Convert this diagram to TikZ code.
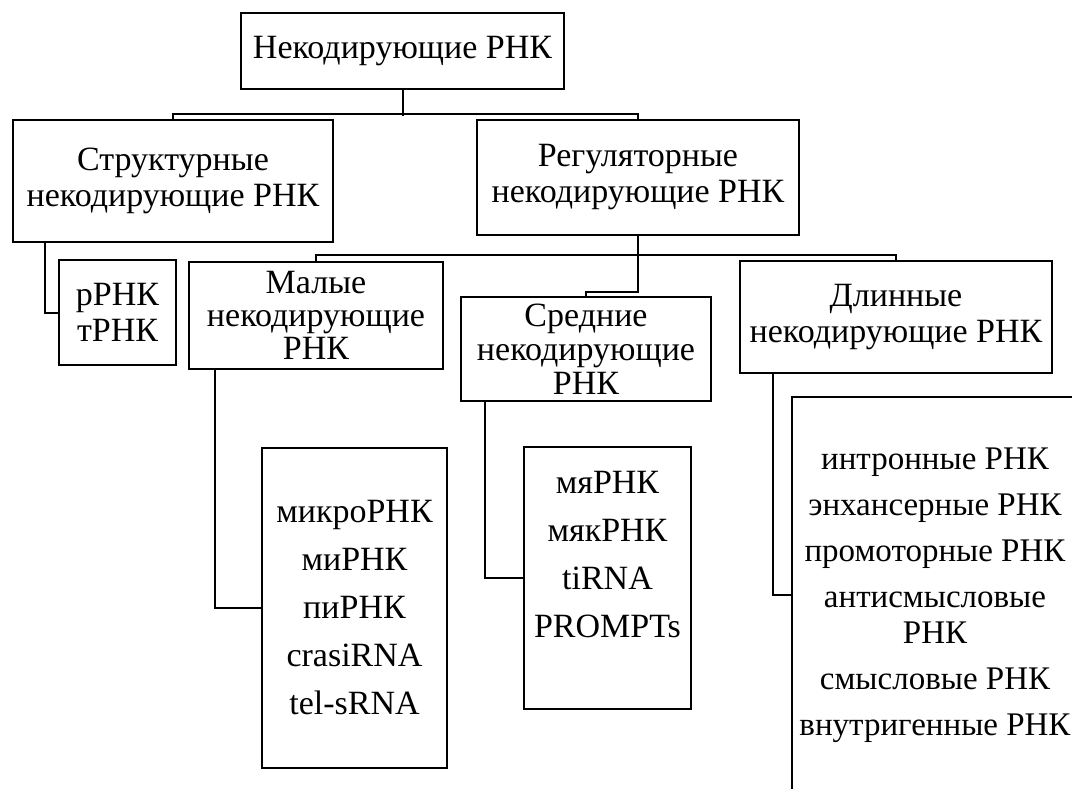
\documentclass[tikz,border=0pt]{standalone}
\usepackage{fontspec}
\setmainfont{Liberation Serif}
\begin{document}
\begin{tikzpicture}[x=1pt,y=-1pt,
  box/.style={draw=black, line width=2pt, inner sep=0pt, align=center,
              font=\fontsize{34}{36}\selectfont},
  conn/.style={draw=black, line width=2pt}]
\useasboundingbox (0,0) rectangle (1072,789);
\clip (0,0) rectangle (1072,789);
% level 0
\node[box, minimum width=323, minimum height=76] (top) at (402.5,51) {Некодирующие РНК};
% level 1
\node[box, minimum width=320, minimum height=122] (struct) at (173,181) {Структурные\\некодирующие РНК};
\node[box, minimum width=322, minimum height=115] (reg) at (638,177.5) {Регуляторные\\некодирующие РНК};
% level 2
\node[box, minimum width=117, minimum height=105] (rrna) at (117.5,312.5) {рРНК\\тРНК};
\node[box, minimum width=254, minimum height=107, font=\fontsize{34}{33}\selectfont] (maly) at (316,315.5) {Малые\\некодирующие\\РНК};
\node[box, minimum width=250, minimum height=104, font=\fontsize{34}{34}\selectfont] (sred) at (586,349) {Средние\\некодирующие\\РНК};
\node[box, minimum width=312, minimum height=112] (dlin) at (896,317) {Длинные\\некодирующие РНК};
% level 3
\node[box, minimum width=185, minimum height=320] (micro) at (354.5,608)
  {микроРНК\\[12pt]миРНК\\[12pt]пиРНК\\[12pt]crasiRNA\\[12pt]tel-sRNA};
\node[box, minimum width=167, minimum height=262] (mya) at (607.5,578)
  {мяРНК\\[12pt]мякРНК\\[12pt]tiRNA\\[12pt]PROMPTs\\[12pt]\phantom{P}};
\node[box, minimum width=286, minimum height=396, font=\fontsize{33}{36}\selectfont] (big) at (935,595)
  {интронные РНК\\[10pt]энхансерные РНК\\[10pt]промоторные РНК\\[10pt]антисмысловые\\РНК\\[10pt]смысловые РНК\\[10pt]внутригенные РНК};
% connectors
\draw[conn] (top.south) -- ++(0,26);
\draw[conn] (struct.north) -- ++(0,-5) -| (reg.north);
\draw[conn] ([xshift=33pt]struct.south west) |- (rrna.west);
\draw[conn] (maly.north) -- ++(0,-6) -| (dlin.north);
\draw[conn] (reg.south) -- ++(0,56) -| (sred.north);
\draw[conn] ([xshift=27pt]maly.south west) |- (micro.west);
\draw[conn] ([xshift=25pt]sred.south west) |- (mya.west);
\draw[conn] ([xshift=34pt]dlin.south west) |- (big.west);
\end{tikzpicture}
\end{document}
